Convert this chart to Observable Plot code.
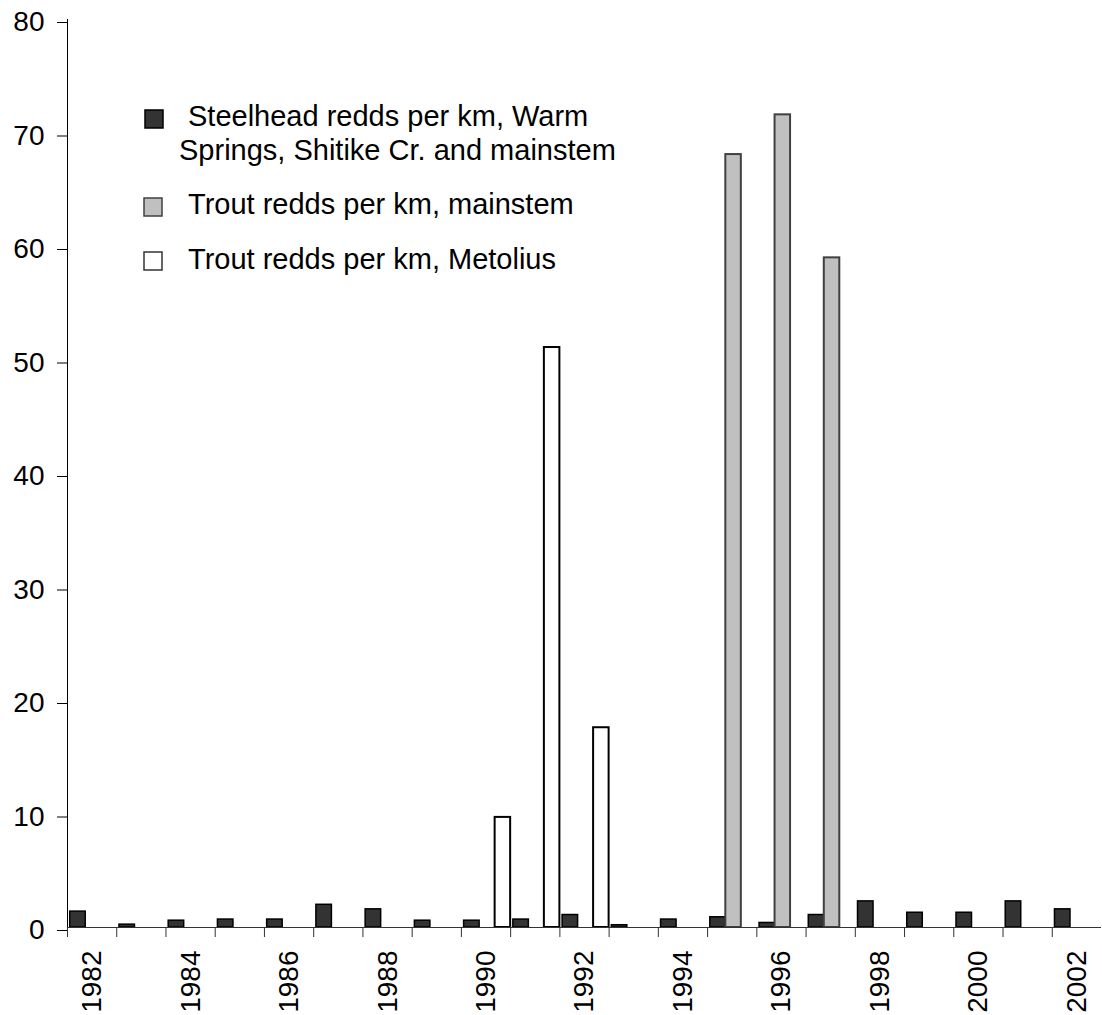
<!DOCTYPE html>
<html>
<head>
<meta charset="utf-8">
<script src="https://cdn.jsdelivr.net/npm/d3@7"></script>
<script src="https://cdn.jsdelivr.net/npm/@observablehq/plot@0.6"></script>
<style>
  html, body { margin: 0; padding: 0; background: white; }
  #chart { position: relative; width: 1102px; height: 1015px; }
</style>
</head>
<body>
<div id="chart"></div>
<script>
const years = [1982,1983,1984,1985,1986,1987,1988,1989,1990,1991,1992,1993,1994,1995,1996,1997,1998,1999,2000,2001,2002];
const steelhead = [1.4,0.25,0.6,0.7,0.7,2.0,1.6,0.6,0.6,0.7,1.1,0.2,0.7,0.9,0.4,1.1,2.3,1.3,1.3,2.3,1.6];
const troutMainstem = [null,null,null,null,null,null,null,null,null,null,null,null,null,68.1,71.6,59.0,null,null,null,null,null];
const troutMetolius = [null,null,null,null,null,null,null,null,9.7,51.1,17.6,null,null,null,null,null,null,null,null,null,null];
const labelYears = [1982,1984,1986,1988,1990,1992,1994,1996,1998,2000,2002];
const yTicks = [0,10,20,30,40,50,60,70,80];
const seriesNames = [
  ["Steelhead redds per km, Warm", "Springs, Shitike Cr. and mainstem"],
  ["Trout redds per km, mainstem"],
  ["Trout redds per km, Metolius"]
];

function rows(values) {
  return years.map((y, i) => ({year: y, v: values[i]})).filter(d => d.v != null);
}
// slot k of 3 inside each year's category
const start = 0.055, w = 0.315;
const x1 = k => d => d.year - 0.5 + start + k * w;
const x2 = k => d => d.year - 0.5 + start + (k + 1) * w;

const boundaries = years.map(y => y - 0.5);
const font = "'Liberation Sans', Arial, sans-serif";

const svg = Plot.plot({
  width: 1102,
  height: 1015,
  marginLeft: 67,
  marginRight: 1,
  marginTop: 19,
  marginBottom: 88,
  x: {domain: [years[0] - 0.5, years[years.length - 1] + 0.5], axis: null},
  y: {domain: [0, 80], axis: null},
  style: {fontFamily: font, fontSize: "28px", color: "black", background: "white"},
  marks: [
    Plot.rectY(rows(steelhead), {x1: x1(0), x2: x2(0), y: "v", fill: "#333333", stroke: "#000", strokeWidth: 1.5}),
    Plot.rectY(rows(troutMainstem), {x1: x1(1), x2: x2(1), y: "v", fill: "#c0c0c0", stroke: "#404040", strokeWidth: 2}),
    Plot.rectY(rows(troutMetolius), {x1: x1(2), x2: x2(2), y: "v", fill: "#ffffff", stroke: "#000", strokeWidth: 2}),
    Plot.ruleY([0], {stroke: "#333"}),
    Plot.ruleX([years[0] - 0.5], {stroke: "#000"}),
    Plot.axisY({ticks: yTicks, label: null, tickSize: 10, tickPadding: 13, fontSize: 28, dy: 3, stroke: "#000", strokeOpacity: 1}),
    Plot.axisX({ticks: boundaries, label: null, tickSize: 10, tickFormat: () => "", stroke: "#333", strokeOpacity: 1}),
    Plot.text(labelYears, {x: d => d, frameAnchor: "bottom", text: d => String(d), rotate: -90, textAnchor: "end", lineAnchor: "middle", dy: 23, fontSize: 28, fill: "#000"})
  ]
});
document.getElementById("chart").appendChild(svg);

// Legend inside the plot area
const lg = d3.select(svg).append("g")
  .attr("font-family", font).attr("font-size", 29).attr("fill", "#000").attr("text-anchor", "start");
const swatches = [
  {fill: "#333333", stroke: "#000", x: 145, y: 110, lines: [[188, 126], [179, 160]]},
  {fill: "#c0c0c0", stroke: "#404040", x: 144, y: 198, lines: [[188, 214]]},
  {fill: "#ffffff", stroke: "#333", x: 144, y: 252, lines: [[188, 269]]}
];
swatches.forEach((s, i) => {
  lg.append("rect").attr("x", s.x).attr("y", s.y).attr("width", 18).attr("height", 18)
    .attr("fill", s.fill).attr("stroke", s.stroke).attr("stroke-width", 1.5);
  s.lines.forEach((p, j) => {
    lg.append("text").attr("x", p[0]).attr("y", p[1]).attr("text-anchor", "start").text(seriesNames[i][j]);
  });
});
</script>
</body>
</html>
